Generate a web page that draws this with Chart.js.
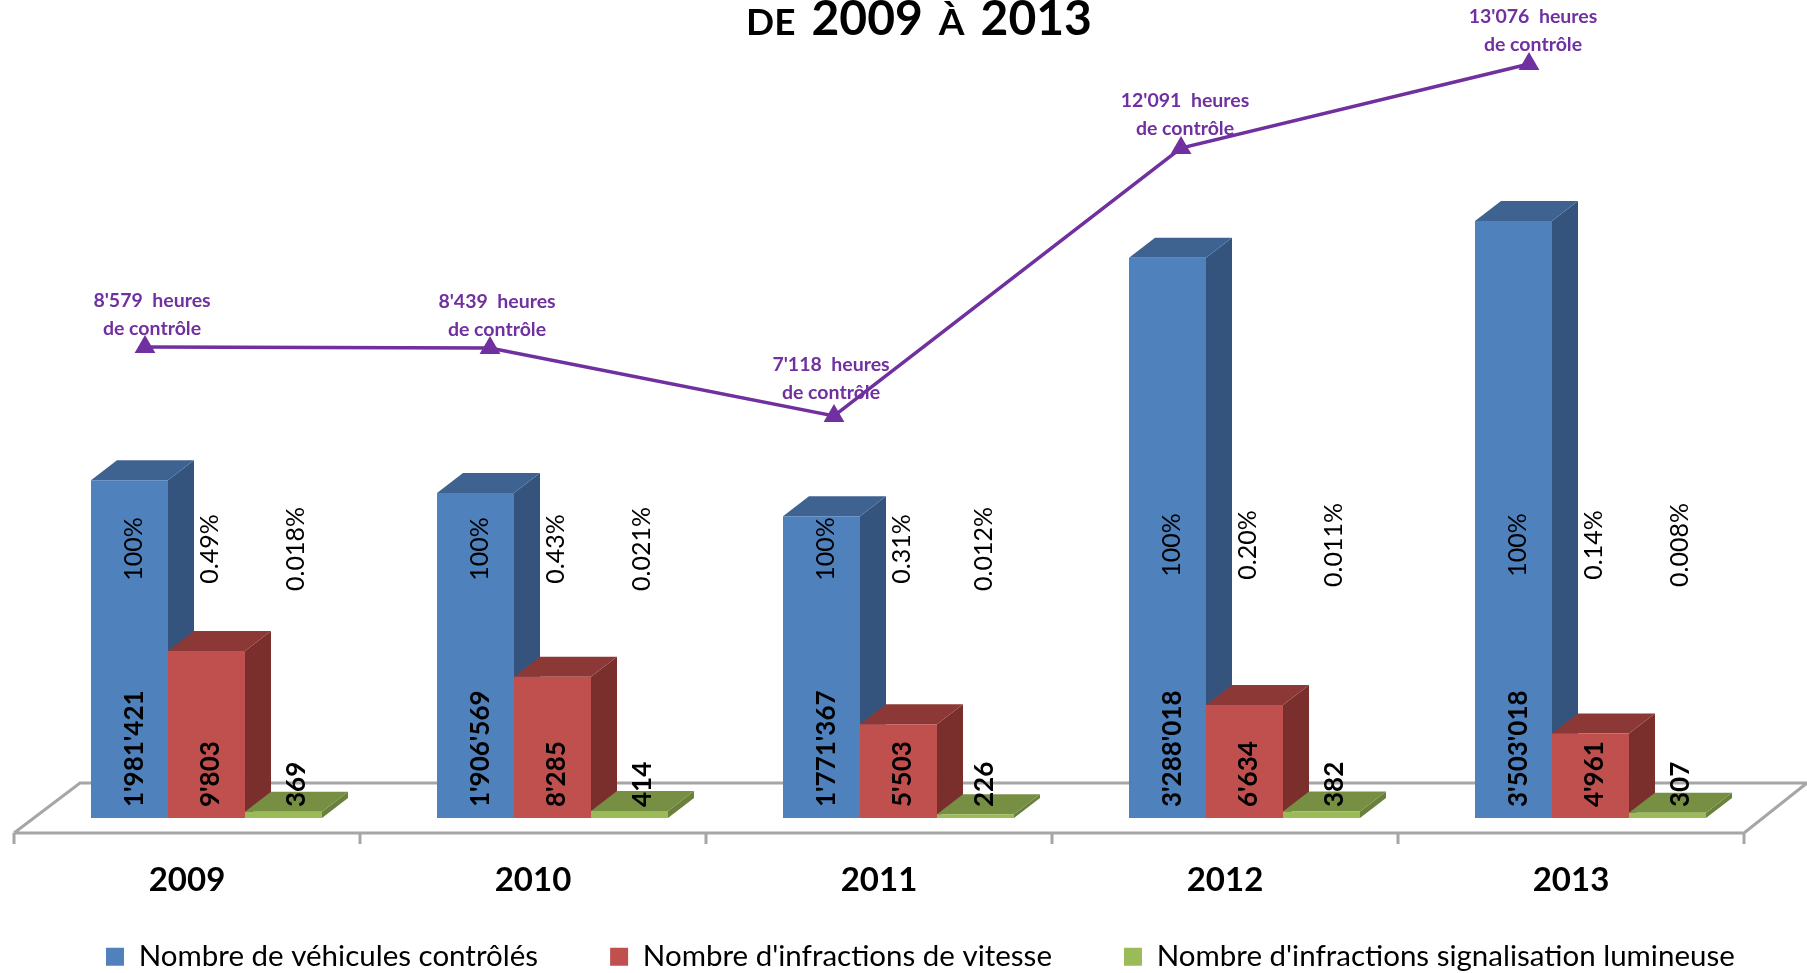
<!DOCTYPE html>
<html>
<head>
<meta charset="utf-8">
<title>Contrôles de vitesse 2009-2013</title>
<script src="https://cdn.jsdelivr.net/npm/chart.js@4"></script>
<style>
  html, body { margin: 0; padding: 0; background: #fff; }
  canvas { display: block; }
</style>
</head>
<body>
<canvas id="myChart" width="1807" height="973"></canvas>
<script>
var annees = [2009, 2010, 2011, 2012, 2013];

var vehicules = [1981421, 1906569, 1771367, 3288018, 3503018];
var vitesse = [9803, 8285, 5503, 6634, 4961];
var feux = [369, 414, 226, 382, 307];

var pctVehicules = ['100%', '100%', '100%', '100%', '100%'];
var pctVitesse = ['0.49%', '0.43%', '0.31%', '0.20%', '0.14%'];
var pctFeux = ['0.018%', '0.021%', '0.012%', '0.011%', '0.008%'];

var heuresTexte = ["8'579", "8'439", "7'118", "12'091", "13'076"];
// the line in the picture does not sit exactly on its printed hours, so these are read off the line itself
var heuresTrace = [8637, 8619, 7372, 12286, 13826];

var nomVehicules = 'Nombre de véhicules contrôlés';
var nomVitesse = "Nombre d'infractions de vitesse";
var nomFeux = "Nombre d'infractions signalisation lumineuse";

var titreMorceaux = [['DE', 37], ['2009', 48], ['À', 37], ['2013', 48]];

// top and side colours of the 3D bars, same order as the datasets
var faces = [
  { dessus: '#3F6391', cote: '#34547D' },
  { dessus: '#8C3836', cote: '#7A2F2D' },
  { dessus: '#768F43', cote: '#6A803C' }
];
var profX = 26;
var profY = 20;
var violet = '#7030A0';

function milliers(n) {
  return String(n).replace(/\B(?=(\d{3})+$)/g, "'");
}

function texteVertical(ctx, txt, x, y, font, align) {
  ctx.save();
  ctx.translate(x, y);
  ctx.rotate(-Math.PI / 2);
  ctx.font = font;
  ctx.fillStyle = '#000';
  ctx.textAlign = align;
  ctx.textBaseline = 'middle';
  ctx.fillText(txt, 0, 0);
  ctx.restore();
}

function poly(ctx, pts, couleur) {
  ctx.fillStyle = couleur;
  ctx.beginPath();
  pts.forEach(function (p, i) {
    if (i == 0) ctx.moveTo(p[0], p[1]); else ctx.lineTo(p[0], p[1]);
  });
  ctx.closePath();
  ctx.fill();
}

// the line points sit left of the bar groups, at the front of the 3D depth
var decaleLigne = {
  id: 'decaleLigne',
  afterDatasetsUpdate: function (chart) {
    var d = [-61.5, -62.5, -64.5, -63.5, -61.5];
    chart.getDatasetMeta(3).data.forEach(function (p, i) { p.x += d[i]; });
  }
};

// floor of the chart and the top and side faces, painted under the bar fronts
var decor3d = {
  id: 'decor3d',
  beforeDatasetsDraw: function (chart) {
    var ctx = chart.ctx;
    var sx = chart.scales.x;
    var base = chart.scales.y.getPixelForValue(0);
    var bande = sx.width / annees.length;
    var x0 = sx.left - 19.5;
    var x1 = x0 + bande * annees.length;
    var avant = base + 15;
    var fond = base - 35;

    ctx.save();
    ctx.strokeStyle = '#A6A6A6';
    ctx.lineWidth = 3;
    ctx.beginPath();
    ctx.moveTo(x0, avant);
    ctx.lineTo(x0 + 66, fond);
    ctx.lineTo(chart.width, fond);
    ctx.moveTo(x0, avant);
    ctx.lineTo(x1, avant);
    ctx.lineTo(chart.width, fond);
    for (var t = 0; t <= annees.length; t++) {
      ctx.moveTo(x0 + t * bande, avant);
      ctx.lineTo(x0 + t * bande, avant + 11);
    }
    ctx.stroke();

    [0, 1, 2].forEach(function (d) {
      chart.getDatasetMeta(d).data.forEach(function (b) {
        var g = b.x - b.width / 2;
        var r = b.x + b.width / 2;
        poly(ctx, [[r, b.base], [r + profX, b.base - profY], [r + profX, b.y - profY], [r, b.y]], faces[d].cote);
        poly(ctx, [[g, b.y], [g + profX, b.y - profY], [r + profX, b.y - profY], [r, b.y]], faces[d].dessus);
      });
    });
    ctx.restore();
  }
};

// the rotated labels on the bars, the hours above the line and the title
var textes = {
  id: 'textes',
  afterDatasetsDraw: function (chart) {
    var ctx = chart.ctx;
    var pcts = [pctVehicules, pctVitesse, pctFeux];
    var valeurs = [vehicules, vitesse, feux];
    var decale = [5, 4, 13];

    [0, 1, 2].forEach(function (d) {
      chart.getDatasetMeta(d).data.forEach(function (b, i) {
        var x = b.x + decale[d];
        if (d == 2 && i == 2) x -= 4; // 2011 green labels sit a bit further left
        texteVertical(ctx, milliers(valeurs[d][i]), x, b.base - 11, 'bold 26px Lato', 'left');
        texteVertical(ctx, pcts[d][i], x - 1, b.base - (i < 3 ? 269 : 273), '25px Lato', 'center');
      });
    });

    var dx = [7, 7, -3, 4, 4];
    var dy = [-40, -40, -45, -41, -41];
    ctx.save();
    ctx.fillStyle = violet;
    ctx.font = 'bold 19.5px Lato';
    ctx.textAlign = 'center';
    ctx.textBaseline = 'alphabetic';
    chart.getDatasetMeta(3).data.forEach(function (p, i) {
      ctx.fillText(heuresTexte[i] + '  heures', p.x + dx[i], p.y + dy[i]);
      ctx.fillText('de contrôle', p.x + dx[i], p.y + dy[i] + 28);
    });

    ctx.fillStyle = '#000';
    ctx.textAlign = 'left';
    var ecart = 16;
    var total = -ecart;
    titreMorceaux.forEach(function (m) {
      ctx.font = 'bold ' + m[1] + 'px Lato';
      total += ctx.measureText(m[0]).width + ecart;
    });
    var x = chart.width / 2 + 15.5 - total / 2;
    titreMorceaux.forEach(function (m) {
      ctx.font = 'bold ' + m[1] + 'px Lato';
      ctx.fillText(m[0], x, 35);
      x += ctx.measureText(m[0]).width + ecart;
    });
    ctx.restore();
  }
};

// legend sits lower and further right than the centred default
var placeLegende = {
  id: 'placeLegende',
  afterLayout: function (chart) {
    var l = chart.legend;
    var pad = l.options.labels.padding;
    l.left = 106 - pad;
    l.right = 2200;
    l.top = 942 - pad;
  }
};

new Chart(document.getElementById('myChart'), {
  type: 'bar',
  data: {
    labels: annees,
    datasets: [
      { label: nomVehicules, data: vehicules, backgroundColor: '#4F81BD', yAxisID: 'y' },
      { label: nomVitesse, data: vitesse, backgroundColor: '#C0504D', yAxisID: 'yInf' },
      { label: nomFeux, data: feux, backgroundColor: '#9BBB59', yAxisID: 'yInf' },
      {
        type: 'line',
        label: 'Heures de contrôle',
        data: heuresTrace,
        borderColor: violet,
        borderWidth: 3.5,
        backgroundColor: violet,
        pointStyle: 'triangle',
        pointRadius: 12,
        pointBorderWidth: 0,
        tension: 0,
        yAxisID: 'yHeures'
      }
    ]
  },
  options: {
    responsive: false,
    animation: false,
    events: [],
    layout: { autoPadding: false, padding: { left: 33.5, right: 43.5, top: 0, bottom: 0 } },
    datasets: { bar: { categoryPercentage: 0.6676, barPercentage: 1 } },
    scales: {
      x: {
        type: 'category',
        grid: { display: false },
        border: { display: false },
        ticks: {
          color: '#000',
          font: { family: 'Lato', size: 33, weight: 'bold' },
          padding: 35,
          labelOffset: -19.5,
          maxRotation: 0,
          autoSkip: false
        },
        afterFit: function (s) { s.height = 115; }
      },
      y: { display: false, min: 0, max: 4800000 },
      yInf: { display: false, min: 0, max: 48000 },
      yHeures: { display: false, min: 0, max: 15000 }
    },
    plugins: {
      title: { display: false },
      tooltip: { enabled: false },
      legend: {
        position: 'bottom',
        align: 'start',
        maxHeight: 40,
        labels: {
          boxWidth: 18,
          boxHeight: 18,
          padding: 72,
          color: '#000',
          font: { family: 'Lato', size: 29.5 },
          filter: function (item) { return item.datasetIndex < 3; }
        }
      }
    }
  },
  plugins: [decaleLigne, decor3d, textes, placeLegende]
});
</script>
</body>
</html>
